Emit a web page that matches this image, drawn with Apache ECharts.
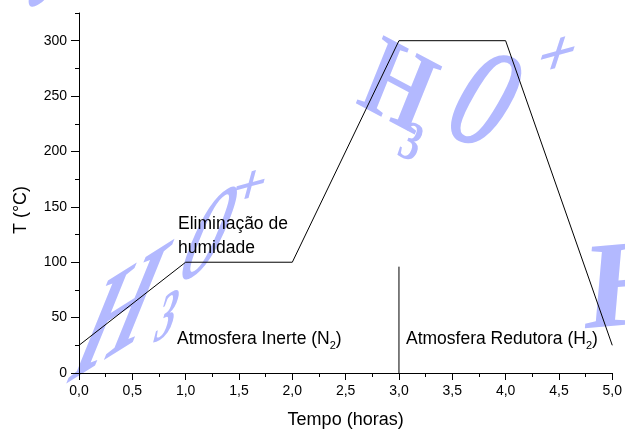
<!DOCTYPE html>
<html>
<head>
<meta charset="utf-8">
<script src="https://cdn.jsdelivr.net/npm/echarts@6/dist/echarts.min.js"></script>
<style>
  html, body { margin: 0; padding: 0; background: #fff; }
  #main { width: 625px; height: 434px; }
</style>
</head>
<body>
<div id="main"></div>
<script>
// Heating programme: time (h) against temperature (°C)
const timeHours = [0, 1, 2, 3, 4, 5];
const temperatureC = [25, 100, 100, 300, 300, 25];

// Gas switch marker (N2 -> H2) at 3 h
const switchTime = [3, 3];
const switchTemp = [0, 96];

// Axis ticks and labels
const xMajorTicks = [0, 0.5, 1, 1.5, 2, 2.5, 3, 3.5, 4, 4.5, 5];
const xTickLabels = ['0,0', '0,5', '1,0', '1,5', '2,0', '2,5', '3,0', '3,5', '4,0', '4,5', '5,0'];
const yMajorTicks = [0, 50, 100, 150, 200, 250, 300];
const yTickLabels = ['0', '50', '100', '150', '200', '250', '300'];

const SANS = '"Liberation Sans", Arial, Helvetica, sans-serif';
const SERIF = '"Liberation Serif", "Times New Roman", serif';
const WM = '#b3b9ff';

// Build a glyph with an arbitrary slant: baseline angle and stroke lean,
// decomposed into rotate * scale * rotate so nested groups can express it.
function slantedGlyph(ch, cx, cy, size, baseDeg, leanDeg, sx, sy) {
  const b = baseDeg * Math.PI / 180, l = leanDeg * Math.PI / 180;
  const m00 = sx * Math.cos(b), m10 = -sx * Math.sin(b);
  const m01 = -sy * Math.sin(l), m11 = sy * Math.cos(l);
  const E = (m00 + m11) / 2, F = (m00 - m11) / 2;
  const G = (m10 + m01) / 2, H = (m10 - m01) / 2;
  const Q = Math.hypot(E, H), R = Math.hypot(F, G);
  const a1 = Math.atan2(G, F), a2 = Math.atan2(H, E);
  const theta = (a2 - a1) / 2, phi = (a2 + a1) / 2;
  return {
    type: 'group', x: cx, y: cy, rotation: -phi, scaleX: Q + R, scaleY: Q - R, z: -1,
    children: [{
      type: 'text', rotation: -theta, z: -1, silent: true,
      style: {
        text: ch, fontFamily: SERIF, fontSize: size, fontWeight: 'bold', fill: WM,
        align: 'center', verticalAlign: 'middle',
        textAlign: 'center', textVerticalAlign: 'middle',
        shadowBlur: 3, shadowColor: WM
      }
    }]
  };
}

const watermark = [
  // upper right
  slantedGlyph('H', 396, 92, 112, -28, 22, 0.8, 1.0),
  slantedGlyph('3', 410, 145, 55, -20, 20, 0.75, 1.0),
  slantedGlyph('O', 481, 108, 140, -20, 30, 0.5, 1.05),
  slantedGlyph('+', 556, 58, 72, 15, 18, 1.0, 1.0),
  // lower left
  slantedGlyph('H', 116, 322, 170, 32, 22, 0.62, 1.0),
  slantedGlyph('3', 166, 320, 75, 30, 15, 0.6, 1.0),
  slantedGlyph('O', 206, 242, 140, 30, 22, 0.45, 1.02),
  slantedGlyph('+', 249, 189, 62, 15, 15, 1.0, 1.0),
  // right edge and top-left fragments
  slantedGlyph('H', 634, 292, 125, 5, 5, 1.0, 1.0),
  slantedGlyph('O', 52, -30, 140, 30, 22, 0.45, 1.0)
];

function note(text, x, y) {
  return {
    type: 'text', x: x, y: y, z: 10, silent: true,
    style: {
      text: text, fontFamily: SANS, fontSize: 17.5, fill: '#000',
      align: 'left', verticalAlign: 'middle',
      textAlign: 'left', textVerticalAlign: 'middle',
      rich: { s: { fontFamily: SANS, fontSize: 11, fill: '#000', padding: [12, 0, 0, 0] } }
    }
  };
}

const notes = [
  note('Eliminação de', 178, 224.6),
  note('humidade', 178, 248.6),
  note('Atmosfera Inerte (N{s|2})', 177, 339.6),
  note('Atmosfera Redutora (H{s|2})', 406, 339.6)
];

const chart = echarts.init(document.getElementById('main'), null, { renderer: 'canvas' });

const axisColor = '#000';
chart.setOption({
  animation: false,
  backgroundColor: '#fff',
  textStyle: { fontFamily: SANS },
  grid: { left: 79, right: 11, top: 13, bottom: 60, containLabel: false },
  xAxis: [{
    type: 'value', min: 0, max: 5, interval: 0.5,
    axisLine: { show: true, onZero: false, lineStyle: { color: axisColor, width: 1 } },
    axisTick: { show: true, inside: false, length: 7, lineStyle: { color: axisColor, width: 1 } },
    minorTick: { show: true, splitNumber: 2, length: 4, lineStyle: { color: axisColor, width: 1 } },
    splitLine: { show: false }, minorSplitLine: { show: false },
    axisLabel: {
      fontSize: 14, color: '#000', fontFamily: SANS, margin: 11,
      formatter: v => xTickLabels[xMajorTicks.indexOf(Math.round(v * 2) / 2)]
    },
    name: 'Tempo (horas)', nameLocation: 'middle', nameGap: 38,
    nameTextStyle: { fontSize: 18, color: '#000', fontFamily: SANS }
  }],
  yAxis: [{
    type: 'value', min: 0, max: 325, interval: 25, position: 'left',
    axisLine: { show: true, onZero: false, lineStyle: { color: axisColor, width: 1 } },
    axisTick: { show: true, inside: false, length: 4, lineStyle: { color: axisColor, width: 1 } },
    splitLine: { show: false },
    axisLabel: {
      customValues: yMajorTicks,
      fontSize: 14, color: '#000', fontFamily: SANS, margin: 12,
      formatter: v => yTickLabels[yMajorTicks.indexOf(v)]
    },
    name: 'T (°C)', nameLocation: 'middle', nameGap: 49, nameRotate: 90,
    nameTextStyle: { fontSize: 18, color: '#000', fontFamily: SANS, padding: [0, 34, 0, 0] }
  }, {
    type: 'value', min: 0, max: 325, position: 'left', offset: 0,
    axisLine: { show: false },
    axisTick: { show: true, inside: false, length: 8, customValues: yMajorTicks, lineStyle: { color: axisColor, width: 1 } },
    axisLabel: { show: false },
    splitLine: { show: false }
  }],
  series: [{
    type: 'line', xAxisIndex: 0, yAxisIndex: 0,
    data: timeHours.map((t, i) => [t, temperatureC[i]]),
    showSymbol: false, symbol: 'none', silent: true,
    lineStyle: { color: '#000', width: 1 }, z: 5
  }, {
    type: 'line', xAxisIndex: 0, yAxisIndex: 0,
    data: switchTime.map((t, i) => [t, switchTemp[i]]),
    showSymbol: false, symbol: 'none', silent: true,
    lineStyle: { color: '#000', width: 1 }, z: 5
  }],
  graphic: { elements: watermark.concat(notes) }
});
</script>
</body>
</html>
